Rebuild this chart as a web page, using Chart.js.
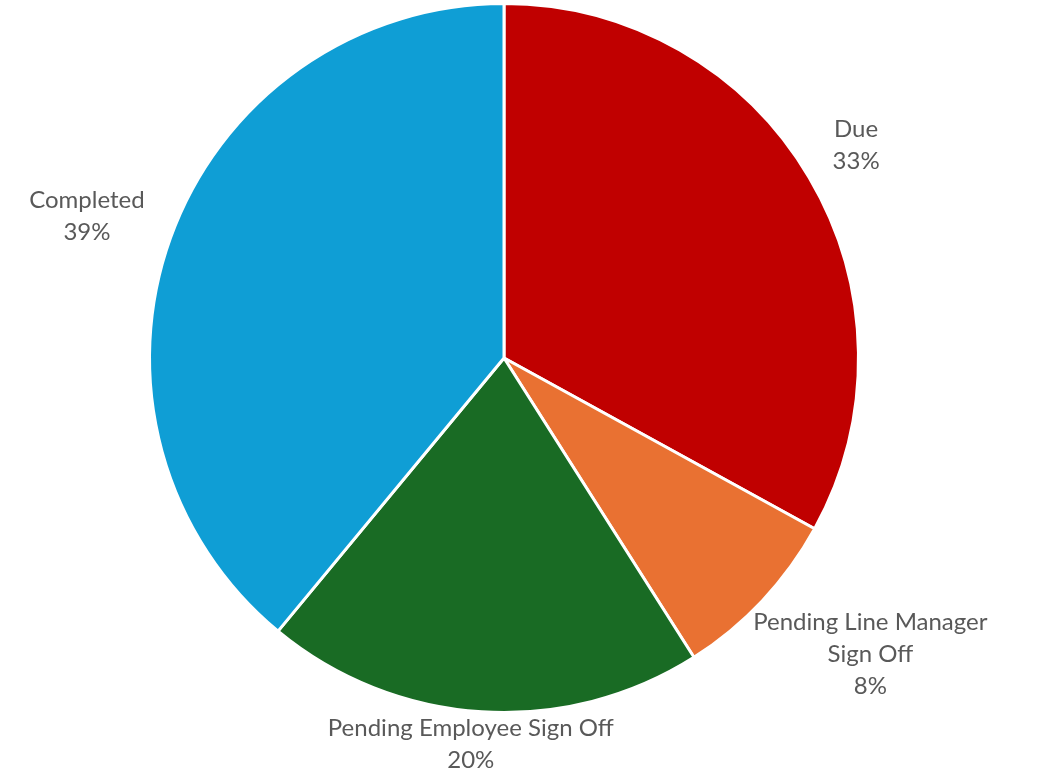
<!DOCTYPE html>
<html>
<head>
<meta charset="utf-8">
<script src="https://cdn.jsdelivr.net/npm/chart.js@4.4.1/dist/chart.umd.min.js"></script>
<style>
  html, body { margin: 0; padding: 0; background: #ffffff; }
  #wrap { width: 1043px; height: 772px; }
</style>
</head>
<body>
<div id="wrap"><canvas id="pie" width="1043" height="772"></canvas></div>
<script>
// data (percent of total)
const categories = ["Due", ["Pending Line Manager", "Sign Off"], "Pending Employee Sign Off", "Completed"];
const values = [33, 8, 20, 39];
const sliceColors = ["#C00000", "#E97132", "#196B24", "#0F9ED5"];

// Excel-like "outside end" labels: name + percentage
const outsideLabels = {
  id: "outsideLabels",
  afterDatasetsDraw(chart) {
    const { ctx } = chart;
    const meta = chart.getDatasetMeta(0);
    const total = values.reduce((a, b) => a + b, 0);
    const lineH = 32;
    const gap = 31;
    ctx.save();
    ctx.font = "24px Lato, 'Open Sans', sans-serif";
    ctx.fillStyle = "#595959";
    ctx.textAlign = "center";
    ctx.textBaseline = "middle";
    meta.data.forEach((arc, i) => {
      const { x, y, startAngle, endAngle, outerRadius } = arc.getProps(["x", "y", "startAngle", "endAngle", "outerRadius"], true);
      const mid = (startAngle + endAngle) / 2;
      const dx = Math.cos(mid), dy = Math.sin(mid);
      const name = [].concat(categories[i]);
      const lines = name.concat([Math.round(values[i] / total * 100) + "%"]);
      const hw = Math.max(...lines.map(l => ctx.measureText(l).width)) / 2;
      const hh = lines.length * lineH / 2;
      let cx = x + dx * (outerRadius + gap) + dx * hw;
      let cy = y + dy * (outerRadius + gap) + dy * hh;
      // keep the label box inside the canvas
      cx = Math.min(Math.max(cx, hw), chart.width - hw);
      cy = Math.min(Math.max(cy, hh), chart.height - hh + 4);
      lines.forEach((l, k) => {
        ctx.fillText(l, cx, cy - hh + lineH / 2 + k * lineH);
      });
    });
    ctx.restore();
  }
};

new Chart(document.getElementById("pie"), {
  type: "pie",
  data: {
    labels: categories,
    datasets: [{
      data: values,
      backgroundColor: sliceColors,
      borderColor: "#ffffff",
      borderWidth: 3,
    }],
  },
  options: {
    responsive: false,
    animation: false,
    layout: {
      padding: { top: 2, bottom: 58, left: 0, right: 35 },
    },
    plugins: {
      legend: { display: false },
      tooltip: { enabled: false },
    },
  },
  plugins: [outsideLabels],
});
</script>
</body>
</html>
